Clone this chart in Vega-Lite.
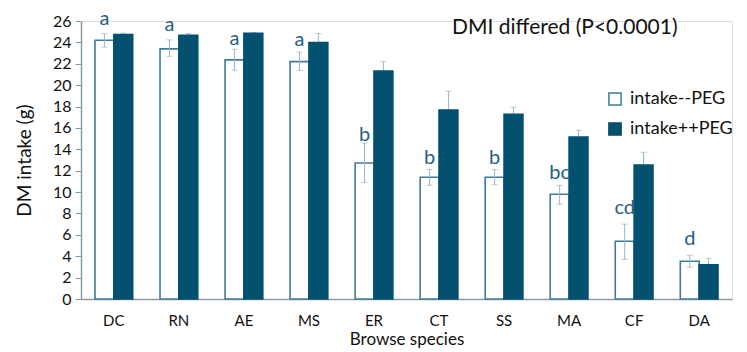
{
  "$schema": "https://vega.github.io/schema/vega-lite/v6.json",
  "width": 651,
  "height": 278,
  "autosize": {"type": "none"},
  "padding": {"left": 81, "top": 21, "right": 15, "bottom": 53},
  "background": "white",
  "title": {
    "text": "DMI differed (P<0.0001)",
    "anchor": "start",
    "frame": "group",
    "orient": "top",
    "dx": 371,
    "dy": 33,
    "font": "Lato",
    "fontSize": 21,
    "fontWeight": "normal",
    "color": "#111111"
  },
  "config": {
    "axisY": {
      "titleFont": "Lato",
      "titleFontSize": 19,
      "titleFontWeight": "normal",
      "titleColor": "#111111",
      "titlePadding": 18,
      "labelFont": "Lato",
      "labelFontSize": 16,
      "labelColor": "#111111",
      "labelOverlap": false,
      "tickCount": 13,
      "grid": false,
      "tickSize": 6,
      "tickColor": "#8d9aa3",
      "domainColor": "#8d9aa3",
      "domainWidth": 1.5,
      "labelPadding": 4
    }
  },
  "data": {
    "values": [
      {"species": "DC", "treatment": "intake--PEG", "value": 24.2, "lo": 23.55, "hi": 24.82, "letter": "a", "letterY": 26.2},
      {"species": "DC", "treatment": "intake++PEG", "value": 24.73, "lo": 24.6, "hi": 24.86},
      {"species": "RN", "treatment": "intake--PEG", "value": 23.39, "lo": 22.7, "hi": 24.23, "letter": "a", "letterY": 25.6},
      {"species": "RN", "treatment": "intake++PEG", "value": 24.67, "lo": 24.5, "hi": 24.84},
      {"species": "AE", "treatment": "intake--PEG", "value": 22.36, "lo": 21.39, "hi": 23.36, "letter": "a", "letterY": 24.3},
      {"species": "AE", "treatment": "intake++PEG", "value": 24.85, "lo": 24.8, "hi": 24.9},
      {"species": "MS", "treatment": "intake--PEG", "value": 22.2, "lo": 21.39, "hi": 23.1, "letter": "a", "letterY": 24.2},
      {"species": "MS", "treatment": "intake++PEG", "value": 23.98, "lo": 23.14, "hi": 24.82},
      {"species": "ER", "treatment": "intake--PEG", "value": 12.72, "lo": 10.9, "hi": 14.57, "letter": "b", "letterY": 15.3},
      {"species": "ER", "treatment": "intake++PEG", "value": 21.33, "lo": 20.46, "hi": 22.2},
      {"species": "CT", "treatment": "intake--PEG", "value": 11.38, "lo": 10.63, "hi": 12.1, "letter": "b", "letterY": 13.2},
      {"species": "CT", "treatment": "intake++PEG", "value": 17.68, "lo": 15.93, "hi": 19.43},
      {"species": "SS", "treatment": "intake--PEG", "value": 11.38, "lo": 10.68, "hi": 12.1, "letter": "b", "letterY": 13.2},
      {"species": "SS", "treatment": "intake++PEG", "value": 17.27, "lo": 16.61, "hi": 17.93},
      {"species": "MA", "treatment": "intake--PEG", "value": 9.79, "lo": 8.86, "hi": 10.63, "letter": "bc", "letterY": 11.8},
      {"species": "MA", "treatment": "intake++PEG", "value": 15.15, "lo": 14.52, "hi": 15.78},
      {"species": "CF", "treatment": "intake--PEG", "value": 5.4, "lo": 3.7, "hi": 7.0, "letter": "cd", "letterY": 8.5},
      {"species": "CF", "treatment": "intake++PEG", "value": 12.53, "lo": 11.34, "hi": 13.72},
      {"species": "DA", "treatment": "intake--PEG", "value": 3.53, "lo": 2.97, "hi": 4.09, "letter": "d", "letterY": 5.6},
      {"species": "DA", "treatment": "intake++PEG", "value": 3.21, "lo": 2.62, "hi": 3.8}
    ]
  },
  "encoding": {
    "x": {
      "field": "species",
      "type": "nominal",
      "sort": ["DC", "RN", "AE", "MS", "ER", "CT", "SS", "MA", "CF", "DA"],
      "scale": {"paddingInner": 0.42, "paddingOuter": 0.215},
      "axis": {
        "title": "Browse species",
        "titleFont": "Lato",
        "titleFontSize": 17,
        "titleFontWeight": "normal",
        "titleColor": "#111111",
        "titlePadding": 3,
        "labelFont": "Lato",
        "labelFontSize": 15,
        "labelColor": "#111111",
        "labelAngle": 0,
        "labelPadding": 14,
        "ticks": false,
        "domainColor": "#8d9aa3",
        "domainWidth": 1.5
      }
    },
    "xOffset": {
      "field": "treatment",
      "type": "nominal",
      "sort": ["intake--PEG", "intake++PEG"],
      "scale": {"paddingInner": 0, "paddingOuter": 0}
    }
  },
  "layer": [
    {
      "transform": [{"filter": "datum.treatment === 'intake++PEG'"}],
      "mark": {"type": "rule", "color": "#9ab5c5", "strokeWidth": 1},
      "encoding": {
        "y": {
          "field": "lo",
          "type": "quantitative",
          "scale": {"domain": [0, 26], "nice": false},
          "title": "DM intake (g)"
        },
        "y2": {"field": "hi"}
      }
    },
    {
      "transform": [{"filter": "datum.treatment === 'intake++PEG'"}],
      "mark": {"type": "tick", "color": "#9ab5c5", "size": 6, "thickness": 1},
      "encoding": {
        "y": {"field": "hi", "type": "quantitative"}
      }
    },
    {
      "mark": {"type": "bar", "strokeWidth": 1.6},
      "encoding": {
        "y": {
          "field": "value",
          "type": "quantitative",
          "scale": {"domain": [0, 26], "nice": false},
          "title": "DM intake (g)"
        },
        "fill": {
          "field": "treatment",
          "type": "nominal",
          "sort": ["intake--PEG", "intake++PEG"],
          "scale": {"domain": ["intake--PEG", "intake++PEG"], "range": ["#ffffff", "#03506f"]},
          "legend": {
            "title": null,
            "orient": "none",
            "legendX": 525,
            "legendY": 69,
            "symbolType": "square",
            "symbolSize": 150,
            "symbolStrokeWidth": 1.5,
            "labelFont": "Lato",
            "labelFontSize": 18,
            "labelColor": "#111111",
            "rowPadding": 10,
            "labelOffset": 6
          }
        },
        "stroke": {
          "field": "treatment",
          "type": "nominal",
          "sort": ["intake--PEG", "intake++PEG"],
          "scale": {"domain": ["intake--PEG", "intake++PEG"], "range": ["#3f7a99", "#03506f"]},
          "legend": {
            "title": null,
            "orient": "none",
            "legendX": 525,
            "legendY": 69,
            "symbolType": "square",
            "symbolSize": 150,
            "symbolStrokeWidth": 1.5,
            "labelFont": "Lato",
            "labelFontSize": 18,
            "labelColor": "#111111",
            "rowPadding": 10,
            "labelOffset": 6
          }
        }
      }
    },
    {
      "transform": [{"filter": "datum.treatment === 'intake--PEG'"}],
      "mark": {"type": "rule", "color": "#9ab5c5", "strokeWidth": 1},
      "encoding": {
        "y": {"field": "lo", "type": "quantitative"},
        "y2": {"field": "hi"}
      }
    },
    {
      "transform": [{"filter": "datum.treatment === 'intake--PEG'"}],
      "mark": {"type": "tick", "color": "#9ab5c5", "size": 6, "thickness": 1},
      "encoding": {
        "y": {"field": "hi", "type": "quantitative"}
      }
    },
    {
      "transform": [{"filter": "datum.treatment === 'intake--PEG'"}],
      "mark": {"type": "tick", "color": "#9ab5c5", "size": 6, "thickness": 1},
      "encoding": {
        "y": {"field": "lo", "type": "quantitative"}
      }
    },
    {
      "transform": [{"filter": "datum.treatment === 'intake--PEG'"}],
      "mark": {"type": "text", "font": "Lato", "fontSize": 20, "color": "#1f6185", "baseline": "middle", "align": "center"},
      "encoding": {
        "y": {"field": "letterY", "type": "quantitative"},
        "text": {"field": "letter", "type": "nominal"}
      }
    }
  ]
}
